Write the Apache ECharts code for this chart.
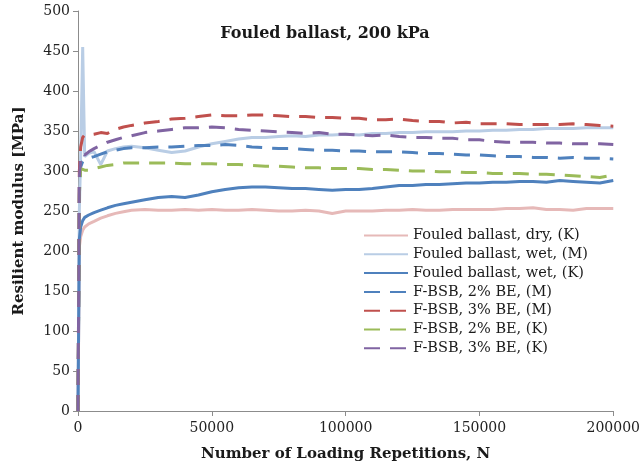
<!DOCTYPE html>
<html>
<head>
<meta charset="utf-8">
<script src="https://cdn.jsdelivr.net/npm/echarts@6/dist/echarts.min.js"></script>
<style>html,body{margin:0;padding:0;background:#fff;}#c{width:643px;height:469px;}</style>
</head>
<body>
<div id="c"></div>
<script>
var N = [0, 500, 1000, 1750, 2500, 4000, 6000, 8500, 11000, 14000, 17000, 20000, 25000, 30000, 35000, 40000, 45000, 50000, 55000, 60000, 65000, 70000, 75000, 80000, 85000, 90000, 95000, 100000, 105000, 110000, 115000, 120000, 125000, 130000, 135000, 140000, 145000, 150000, 155000, 160000, 165000, 170000, 175000, 180000, 185000, 190000, 195000, 200000];

var dryK = [0, 205, 218, 226, 230, 234, 237, 241, 244, 247, 249, 251, 252, 251, 251, 252, 251, 252, 251, 251, 252, 251, 250, 250, 251, 250, 247, 250, 250, 250, 251, 251, 252, 251, 251, 252, 252, 252, 252, 253, 253, 254, 252, 252, 251, 253, 253, 253];
var wetM = [0, 250, 320, 455, 318, 322, 324, 308, 325, 328, 330, 331, 329, 326, 323, 325, 330, 334, 337, 340, 342, 342, 343, 344, 343, 345, 345, 346, 345, 347, 347, 348, 348, 349, 349, 349, 350, 350, 351, 351, 352, 352, 353, 353, 353, 354, 354, 354];
var wetK = [0, 215, 230, 238, 242, 245, 248, 251, 254, 257, 259, 261, 264, 267, 268, 267, 270, 274, 277, 279, 280, 280, 279, 278, 278, 277, 276, 277, 277, 278, 280, 282, 282, 283, 283, 284, 285, 285, 286, 286, 287, 287, 286, 288, 287, 286, 285, 288];
var bsb2M = [0, 280, 305, 312, 314, 316, 318, 321, 324, 326, 328, 329, 329, 330, 330, 331, 332, 332, 333, 332, 330, 329, 328, 328, 327, 326, 326, 325, 325, 324, 324, 324, 323, 322, 322, 321, 320, 320, 319, 318, 318, 317, 317, 316, 317, 316, 316, 315];
var bsb3M = [0, 300, 330, 342, 345, 345, 346, 348, 347, 352, 355, 357, 360, 362, 365, 366, 368, 370, 369, 369, 370, 370, 369, 368, 368, 367, 367, 366, 366, 364, 364, 365, 363, 362, 362, 360, 361, 359, 359, 359, 358, 358, 358, 358, 359, 358, 357, 356];
var bsb2K = [0, 270, 303, 302, 301, 301, 303, 305, 307, 308, 310, 310, 310, 310, 310, 309, 309, 309, 308, 308, 307, 306, 306, 305, 304, 304, 303, 303, 303, 302, 302, 301, 300, 300, 299, 299, 298, 298, 297, 297, 297, 296, 296, 295, 294, 293, 292, 295];
var bsb3K = [0, 290, 318, 322, 320, 324, 328, 332, 336, 339, 342, 344, 348, 350, 352, 354, 354, 355, 354, 352, 351, 350, 349, 348, 347, 348, 346, 346, 345, 344, 345, 343, 342, 342, 341, 341, 339, 339, 337, 336, 336, 336, 335, 335, 334, 334, 334, 333];

var names = ['Fouled ballast, dry, (K)', 'Fouled ballast, wet, (M)', 'Fouled ballast, wet, (K)', 'F-BSB, 2% BE, (M)', 'F-BSB, 3% BE, (M)', 'F-BSB, 2% BE, (K)', 'F-BSB, 3% BE, (K)'];
var xTicks = [0, 50000, 100000, 150000, 200000];

function pairs(v) { return N.map(function (n, i) { return [n, v[i]]; }); }

var FONT = 'DejaVu Serif';
var dash = [16, 10];
var defs = [
  { d: dryK, c: '#e6b9b8', t: 'solid' },
  { d: wetM, c: '#b9cde5', t: 'solid' },
  { d: wetK, c: '#4f81bd', t: 'solid' },
  { d: bsb2M, c: '#4f81bd', t: dash },
  { d: bsb3M, c: '#c0504d', t: dash },
  { d: bsb2K, c: '#9bbb59', t: dash },
  { d: bsb3K, c: '#8064a2', t: dash }
];

var chart = echarts.init(document.getElementById('c'), null, { renderer: 'canvas' });
chart.setOption({
  animation: false,
  backgroundColor: '#ffffff',
  title: {
    text: 'Fouled ballast, 200 kPa',
    left: 320, top: 21, textAlign: 'center',
    textStyle: { fontFamily: FONT, fontSize: 16, fontWeight: 'bold', color: '#1a1a1a' }
  },
  legend: {
    orient: 'vertical',
    left: 358, top: 223,
    itemWidth: 44, itemHeight: 12, itemGap: 3.8,
    data: names,
    itemStyle: { opacity: 0, borderWidth: 0 },
    textStyle: { fontFamily: FONT, fontSize: 14.5, color: '#1a1a1a' }
  },
  grid: { left: 78, right: 27, top: 11, bottom: 58, containLabel: false },
  xAxis: {
    type: 'value', min: 0, max: 200000, interval: 50000,
    name: 'Number of Loading Repetitions, N', nameLocation: 'middle', nameGap: 36,
    nameTextStyle: { fontFamily: FONT, fontSize: 15, fontWeight: 'bold', color: '#1a1a1a' },
    axisLine: { show: true, lineStyle: { color: '#8c8c8c', width: 1 } },
    axisTick: { show: true, inside: false, length: 5, lineStyle: { color: '#8c8c8c' } },
    axisLabel: { fontFamily: FONT, fontSize: 14, color: '#222', margin: 10,
      formatter: function (v) { return xTicks.indexOf(v) >= 0 ? String(v) : ''; } },
    splitLine: { show: false }
  },
  yAxis: {
    type: 'value', min: 0, max: 500, interval: 50,
    name: 'Resilient modulus [MPa]', nameLocation: 'middle', nameGap: 51,
    nameTextStyle: { fontFamily: FONT, fontSize: 15, fontWeight: 'bold', color: '#1a1a1a' },
    axisLine: { show: true, lineStyle: { color: '#8c8c8c', width: 1 } },
    axisTick: { show: true, inside: false, length: 5, lineStyle: { color: '#8c8c8c' } },
    axisLabel: { fontFamily: FONT, fontSize: 14, color: '#222', margin: 8 },
    splitLine: { show: false }
  },
  series: defs.map(function (s, i) {
    return {
      name: names[i], type: 'line', data: pairs(s.d),
      showSymbol: false, symbol: 'none', color: s.c,
      lineStyle: { color: s.c, width: 3, type: s.t }
    };
  })
});
</script>
</body>
</html>
